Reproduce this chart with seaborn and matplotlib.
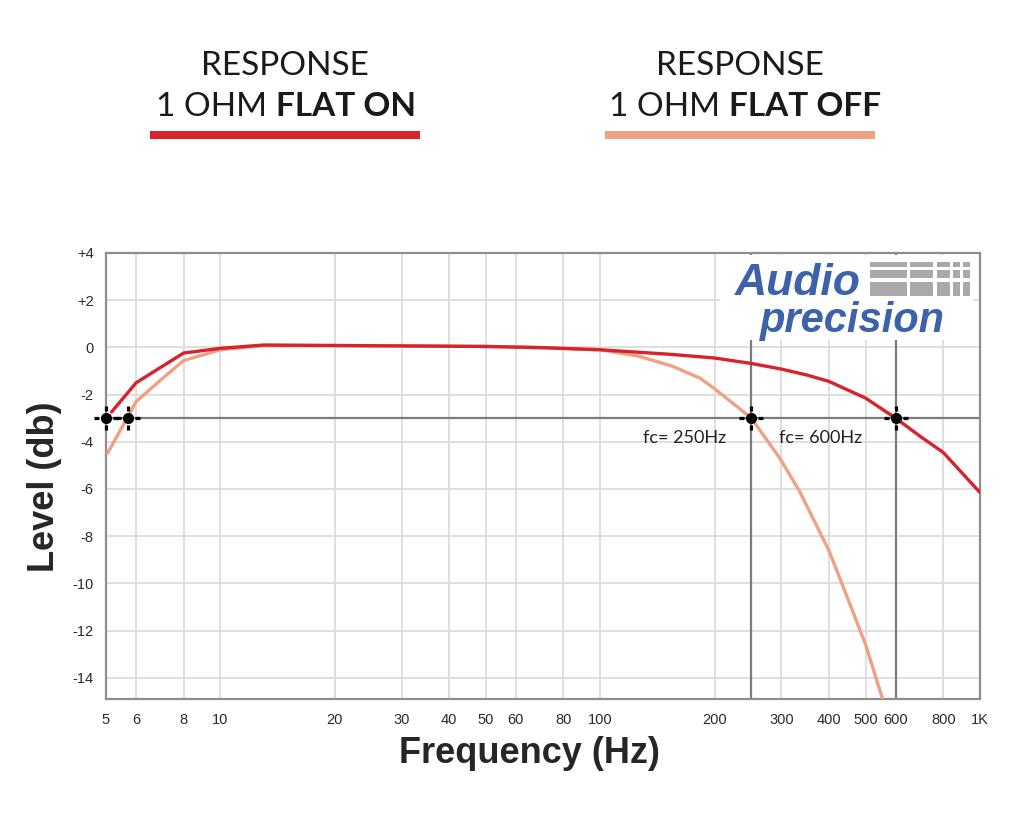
import numpy as np
import pandas as pd
import seaborn as sns
import matplotlib.pyplot as plt
from matplotlib.path import Path
from matplotlib.patches import Rectangle

# ---------------------------
# Data
# ---------------------------
flat_on_freq = [5.17, 6, 8, 10, 13, 20, 50, 70, 100, 155, 200, 250, 300, 350, 400, 500, 600, 700, 800, 1000]
flat_on_db = [-2.74, -1.5, -0.24, -0.04, 0.1, 0.08, 0.04, -0.01, -0.1, -0.3, -0.45, -0.68, -0.92, -1.17,
              -1.44, -2.15, -3.0, -3.8, -4.45, -6.15]

flat_off_freq = [5.05, 5.68, 6, 7, 8, 10, 13, 20, 50, 70, 100, 127, 155, 183, 200, 233, 250, 297, 335,
                 400, 450, 500, 554]
flat_off_db = [-4.48, -3.0, -2.3, -1.35, -0.56, -0.1, 0.08, 0.08, 0.04, -0.01, -0.1, -0.38, -0.8, -1.3,
               -1.75, -2.6, -3.0, -4.69, -6.1, -8.6, -10.7, -12.6, -14.9]

fc_freq = [5, 5.7, 250, 600]
fc_db = [-3, -3, -3, -3]

x_ticks = [5, 6, 8, 10, 20, 30, 40, 50, 60, 80, 100, 200, 300, 400, 500, 600, 800, 1000]
x_tick_labels = ['5', '6', '8', '10', '20', '30', '40', '50', '60', '80', '100',
                 '200', '300', '400', '500', '600', '800', '1K']
y_ticks = [4, 2, 0, -2, -4, -6, -8, -10, -12, -14]
y_tick_labels = ['+4', '+2', '0', '-2', '-4', '-6', '-8', '-10', '-12', '-14']

RED = '#d8232b'
ORANGE = '#eea283'

df = pd.concat([
    pd.DataFrame({'freq': flat_on_freq, 'level': flat_on_db, 'series': 'FLAT ON'}),
    pd.DataFrame({'freq': flat_off_freq, 'level': flat_off_db, 'series': 'FLAT OFF'}),
])

# ---------------------------
# Figure
# ---------------------------
sns.set_style('white')
plt.rcParams['font.family'] = ['Liberation Sans', 'DejaVu Sans']

fig = plt.figure(figsize=(10.24, 8.33), dpi=100)
ax = fig.add_axes([106 / 1024, 1 - 699 / 833, 874 / 1024, 446 / 833])

ax.set_xscale('log')
sns.lineplot(data=df, x='freq', y='level', hue='series',
             palette={'FLAT ON': RED, 'FLAT OFF': ORANGE},
             hue_order=['FLAT OFF', 'FLAT ON'],
             sort=False, estimator=None, legend=False, linewidth=2.4, ax=ax, zorder=4)

ax.set_xlim(5, 1000)
ax.set_ylim(-14.9, 4)
ax.set_xticks(x_ticks)
ax.set_xticklabels(x_tick_labels)
ax.xaxis.set_minor_locator(plt.NullLocator())
ax.set_yticks(y_ticks)
ax.set_yticklabels(y_tick_labels)
ax.tick_params(axis='both', length=0, labelsize=10.5, labelcolor='#2a2a2a')
ax.tick_params(axis='x', pad=10)
ax.tick_params(axis='y', pad=9)
ax.grid(True, color='#dcdcdc', linewidth=1.3, zorder=0)
ax.set_axisbelow(True)
for sp in ax.spines.values():
    sp.set_color('#8e8e8e')
    sp.set_linewidth(1.6)

# -3 dB reference and cutoff lines
ax.axhline(-3, color='#7c7c7c', linewidth=1.6, zorder=2)
for f in fc_freq[2:]:
    ax.axvline(f, color='#7c7c7c', linewidth=1.6, zorder=2)

# crosshair markers
cross = Path([(-1, 0), (-0.62, 0), (0.62, 0), (1, 0), (0, -1), (0, -0.62), (0, 0.62), (0, 1)],
             [Path.MOVETO, Path.LINETO] * 4)
ax.plot(fc_freq, fc_db, linestyle='none', marker=cross, markersize=17, markeredgewidth=2.3,
        color='black', clip_on=False, zorder=6)
ax.plot(fc_freq, fc_db, linestyle='none', marker='o', markersize=7, color='black',
        clip_on=False, zorder=6)

ax.text(215, -3.86, 'fc= 250Hz', ha='right', va='center', fontsize=13,
        family='Lato', color='#222222', zorder=5)
ax.text(295, -3.86, 'fc= 600Hz', ha='left', va='center', fontsize=13,
        family='Lato', color='#222222', zorder=5)

ax.set_xlabel('Frequency (Hz)', fontsize=26, fontweight='bold')
ax.set_ylabel('Level (db)', fontsize=26, fontweight='bold')
ax.xaxis.set_label_coords(0.485, -0.082)
ax.yaxis.set_label_coords(-0.050, 0.475)

# Audio Precision logo
ax.add_patch(Rectangle((720 / 1024, 1 - 340 / 833), 253 / 1024, 85 / 833,
                       transform=fig.transFigure, facecolor='white', edgecolor='none', zorder=3))
LOGO_BLUE = '#3d62a9'
ax.text(735 / 1024, 1 - 295 / 833, 'Audio', transform=fig.transFigure, fontsize=32,
        fontweight='bold', fontstyle='italic', color=LOGO_BLUE, va='baseline', zorder=5)
ax.text(760 / 1024, 1 - 332 / 833, 'precision', transform=fig.transFigure, fontsize=30,
        fontweight='bold', fontstyle='italic', color=LOGO_BLUE, va='baseline', zorder=5)
for y0, y1 in [(262, 267), (270, 278), (282, 296)]:
    for x0, x1 in [(870, 907), (910, 933), (937, 950), (953, 960), (963, 970)]:
        ax.add_patch(Rectangle((x0 / 1024, 1 - y1 / 833), (x1 - x0) / 1024, (y1 - y0) / 833,
                               transform=fig.transFigure, facecolor='#a9a9a9',
                               edgecolor='none', zorder=4))

# ---------------------------
# Header legend
# ---------------------------
for cx, bold, col, split in [(285, 'FLAT ON', RED, 272), (740, 'FLAT OFF', ORANGE, 725)]:
    fig.text(cx / 1024, 1 - 75 / 833, 'RESPONSE', ha='center', va='baseline',
             fontsize=24, family='Lato', color='#1a1a1a')
    fig.text((split - 5) / 1024, 1 - 116 / 833, '1 OHM', ha='right', va='baseline',
             fontsize=24, family='Lato', color='#1a1a1a')
    fig.text((split + 4) / 1024, 1 - 116 / 833, bold, ha='left', va='baseline',
             fontsize=24, family='Lato', fontweight='bold', color='#1a1a1a')
    fig.add_artist(Rectangle(((cx - 135) / 1024, 1 - 139 / 833), 270 / 1024, 8 / 833,
                             transform=fig.transFigure, facecolor=col, edgecolor='none'))

fig.savefig('out.png', dpi=100, facecolor='white')
